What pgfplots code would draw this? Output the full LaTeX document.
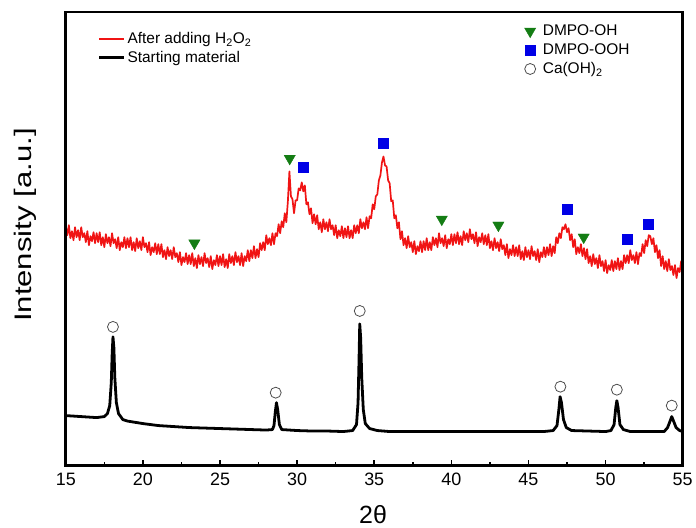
\documentclass[border=0pt]{standalone}
\usepackage{pgfplots}
\pgfplotsset{compat=1.18}
\usepackage{fontspec}
\setmainfont{Liberation Sans}
\definecolor{mkgreen}{RGB}{20,125,20}
\definecolor{mkblue}{RGB}{0,0,230}
\definecolor{curvered}{RGB}{240,20,20}
\begin{document}
\begin{tikzpicture}
\begin{axis}[
  name=main,
  width=619pt, height=455pt, scale only axis,
  xmin=15, xmax=55, ymin=62, ymax=517,
  xtick={15,20,...,55}, minor x tick num=1,
  ytick=\empty,
  xtick pos=bottom, tick align=inside,
  major tick length=5pt, minor tick length=3pt,
  tick style={line width=1.5pt, black},
  /pgf/number format/assume math mode=true,
  ticklabel style={font=\fontsize{18}{21}\selectfont},
  xticklabel style={yshift=-4pt},
  xlabel={2θ},
  xlabel style={font=\fontsize{25}{30}\selectfont, at={(axis description cs:0.498,-0.108)}, anchor=center},
  ylabel={\scalebox{1.3}[1]{Intensity [a.u.]}},
  ylabel style={font=\fontsize{24}{28}\selectfont, at={(axis description cs:-0.066,0.53)}, anchor=center},
  legend style={at={(axis description cs:0.05,0.962)}, anchor=north west, draw=none, fill=none,
    font=\fontsize{15.5}{18}\selectfont, row sep=2.5pt, inner sep=1pt},
  legend cell align=left,
  legend image code/.code={\draw[#1] (0pt,0pt) -- (25pt,0pt);},
]
\addplot[curvered, line width=1.7pt, line join=round] coordinates {
(15.0,302)(15.1,293)(15.2,303)(15.3,290)(15.4,297)(15.5,288)(15.6,301)(15.7,291)(15.8,298)(15.9,288)
(16.0,301)(16.1,291)(16.2,295)(16.3,286)(16.4,297)(16.5,283)(16.6,292)(16.7,287)(16.8,296)(16.9,285)
(17.0,295)(17.1,286)(17.2,296)(17.3,283)(17.4,291)(17.5,281)(17.6,294)(17.7,285)(17.8,291)(17.9,282)
(18.0,295)(18.1,285)(18.2,289)(18.3,280)(18.4,291)(18.5,278)(18.6,286)(18.7,281)(18.8,291)(18.9,280)
(19.0,290)(19.1,281)(19.2,291)(19.3,278)(19.4,286)(19.5,277)(19.6,290)(19.7,280)(19.8,287)(19.9,278)
(20.0,291)(20.1,281)(20.2,285)(20.3,276)(20.4,286)(20.5,273)(20.6,281)(20.7,276)(20.8,285)(20.9,274)
(21.0,284)(21.1,274)(21.2,284)(21.3,271)(21.4,278)(21.5,269)(21.6,281)(21.7,272)(21.8,278)(21.9,269)
(22.0,281)(22.1,271)(22.2,275)(22.3,266)(22.4,276)(22.5,263)(22.6,271)(22.7,266)(22.8,275)(22.9,264)
(23.0,273)(23.1,264)(23.2,275)(23.3,262)(23.4,270)(23.5,260)(23.6,273)(23.7,264)(23.8,271)(23.9,262)
(24.0,275)(24.1,265)(24.2,270)(24.3,261)(24.4,272)(24.5,259)(24.6,268)(24.7,263)(24.8,273)(24.9,262)
(25.0,272)(25.1,263)(25.2,274)(25.3,261)(25.4,269)(25.5,260)(25.6,274)(25.7,265)(25.8,272)(25.9,263)
(26.0,276)(26.1,266)(26.2,272)(26.3,263)(26.4,275)(26.5,262)(26.6,272)(26.7,267)(26.8,278)(26.9,267)
(27.0,278)(27.1,270)(27.2,282)(27.3,270)(27.4,279)(27.5,271)(27.6,285)(27.7,278)(27.8,286)(27.9,278)
(28.0,293)(28.1,284)(28.2,290)(28.3,283)(28.4,295)(28.5,284)(28.6,295)(28.7,292)(28.8,304)(28.9,295)
(29.0,307)(29.1,301)(29.2,315)(29.3,306)(29.4,327)(29.5,357)(29.6,332)(29.7,329)(29.8,315)(29.9,328)
(30.0,328)(30.1,340)(30.2,338)(30.3,346)(30.4,337)(30.5,343)(30.6,324)(30.7,326)(30.8,314)(30.9,320)
(31.0,305)(31.1,314)(31.2,304)(31.3,313)(31.4,299)(31.5,306)(31.6,296)(31.7,309)(31.8,299)(31.9,306)
(32.0,297)(32.1,309)(32.2,299)(32.3,303)(32.4,293)(32.5,303)(32.6,290)(32.7,298)(32.8,292)(32.9,302)
(33.0,290)(33.1,300)(33.2,291)(33.3,302)(33.4,290)(33.5,298)(33.6,290)(33.7,303)(33.8,295)(33.9,303)
(34.0,295)(34.1,309)(34.2,300)(34.3,306)(34.4,299)(34.5,311)(34.6,300)(34.7,312)(34.8,310)(34.9,324)
(35.0,319)(35.1,332)(35.2,334)(35.3,348)(35.4,353)(35.5,366)(35.6,372)(35.7,363)(35.8,362)(35.9,348)
(36.0,345)(36.1,327)(36.2,328)(36.3,310)(36.4,313)(36.5,300)(36.6,306)(36.7,289)(36.8,297)(36.9,283)
(37.0,290)(37.1,280)(37.2,292)(37.3,281)(37.4,286)(37.5,276)(37.6,287)(37.7,274)(37.8,282)(37.9,277)
(38.0,287)(38.1,276)(38.2,287)(38.3,278)(38.4,290)(38.5,278)(38.6,286)(38.7,278)(38.8,291)(38.9,283)
(39.0,290)(39.1,281)(39.2,295)(39.3,285)(39.4,290)(39.5,282)(39.6,293)(39.7,280)(39.8,289)(39.9,284)
(40.0,294)(40.1,283)(40.2,294)(40.3,285)(40.4,296)(40.5,284)(40.6,292)(40.7,283)(40.8,297)(40.9,288)
(41.0,295)(41.1,286)(41.2,299)(41.3,289)(41.4,294)(41.5,285)(41.6,296)(41.7,282)(41.8,291)(41.9,286)
(42.0,295)(42.1,284)(42.2,293)(42.3,283)(42.4,294)(42.5,280)(42.6,287)(42.7,278)(42.8,290)(42.9,280)
(43.0,286)(43.1,277)(43.2,289)(43.3,279)(43.4,283)(43.5,273)(43.6,284)(43.7,270)(43.8,279)(43.9,273)
(44.0,283)(44.1,272)(44.2,281)(44.3,272)(44.4,283)(44.5,269)(44.6,277)(44.7,268)(44.8,281)(44.9,271)
(45.0,278)(45.1,269)(45.2,282)(45.3,272)(45.4,277)(45.5,268)(45.6,279)(45.7,266)(45.8,276)(45.9,271)
(46.0,281)(46.1,271)(46.2,281)(46.3,273)(46.4,284)(46.5,272)(46.6,282)(46.7,275)(46.8,291)(46.9,285)
(47.0,295)(47.1,290)(47.2,301)(47.3,299)(47.4,304)(47.5,296)(47.6,300)(47.7,288)(47.8,294)(47.9,281)
(48.0,289)(48.1,274)(48.2,281)(48.3,275)(48.4,284)(48.5,272)(48.6,280)(48.7,269)(48.8,279)(48.9,265)
(49.0,272)(49.1,262)(49.2,274)(49.3,264)(49.4,270)(49.5,260)(49.6,273)(49.7,262)(49.8,267)(49.9,257)
(50.0,268)(50.1,255)(50.2,263)(50.3,258)(50.4,268)(50.5,257)(50.6,267)(50.7,259)(50.8,270)(50.9,258)
(51.0,267)(51.1,259)(51.2,273)(51.3,265)(51.4,273)(51.5,265)(51.6,278)(51.7,268)(51.8,273)(51.9,265)
(52.0,276)(52.1,264)(52.2,275)(52.3,272)(52.4,284)(52.5,275)(52.6,288)(52.7,282)(52.8,293)(52.9,292)
(53.0,284)(53.1,290)(53.2,276)(53.3,283)(53.4,270)(53.5,278)(53.6,262)(53.7,272)(53.8,259)(53.9,267)
(54.0,257)(54.1,269)(54.2,258)(54.3,262)(54.4,253)(54.5,263)(54.6,250)(54.7,260)(54.8,256)(54.9,267)
(55.0,256)
};
\addlegendentry{After adding H\textsubscript{2}O\textsubscript{2}}
\addplot[black, line width=2.8pt, line join=round] coordinates {
(15,112)(16,111)(17,110)(17.5,111)(17.7,114)(17.85,122)(17.95,145)(18.01,175)(18.06,191)(18.12,180)
(18.18,150)(18.28,125)(18.42,114)(18.7,108)(19,106.5)(20,104)(21,102)(22,101)(23,100)(24,99.5)
(25,99)(26,98.5)(27,98)(28,97.5)(28.4,98)(28.5,102)(28.58,115)(28.66,125)(28.74,118)(28.85,103)
(29.0,98)(30,97)(31,96.5)(32,96.5)(33,96)(33.6,97)(33.85,103)(33.95,125)(34.01,165)(34.06,204)
(34.12,190)(34.19,150)(34.29,118)(34.42,104)(34.7,99)(35.2,97)(36,96)(40,96)(44,96)(46,96)
(46.6,97)(46.85,102)(46.97,118)(47.05,131)(47.14,125)(47.27,108)(47.45,100)(47.8,97)(50,96)(50.35,97)
(50.55,103)(50.66,120)(50.73,127)(50.81,120)(50.93,103)(51.15,98)(51.6,96)(53.8,96)(54.02,100)(54.17,106)
(54.29,111)(54.42,106)(54.57,100)(54.8,97)(55,96)
};
\addlegendentry{Starting material}
\addplot[only marks, mark=o, mark size=5.5pt, mark options={draw=black!70, line width=0.8pt}, forget plot]
  coordinates {(18.06,201)(28.61,135)(34.06,217)(47.07,141)(50.73,138)(54.29,122)};
\addplot[only marks, mark=triangle*, mark size=6.5pt, mark options={fill=mkgreen, draw=mkgreen, rotate=180}, forget plot]
  coordinates {(23.34,285)(29.52,370)(39.38,309)(43.05,303)(48.58,291)};
\addplot[only marks, mark=square*, mark size=5pt, mark options={fill=mkblue, draw=mkblue}, forget plot]
  coordinates {(30.38,361)(35.61,385)(47.5,319)(51.4,289)(52.78,304)};
\end{axis}
\begin{axis}[
  width=619pt, height=455pt, scale only axis, hide axis,
  xmin=15, xmax=55, ymin=62, ymax=517,
  legend style={at={(axis description cs:0.74,0.978)}, anchor=north west, draw=none, fill=none,
    font=\fontsize{15.5}{18}\selectfont, row sep=2.5pt, inner sep=1pt},
  legend cell align=left,
  legend image code/.code={\draw[#1] plot coordinates {(6.5pt,0pt)}; \path (0pt,0pt) (17pt,0pt);},
]
\addlegendimage{only marks, mark=triangle*, mark size=6.5pt, mark options={fill=mkgreen, draw=mkgreen, rotate=180}}
\addlegendentry{DMPO-OH}
\addlegendimage{only marks, mark=square*, mark size=5pt, mark options={fill=mkblue, draw=mkblue}}
\addlegendentry{DMPO-OOH}
\addlegendimage{only marks, mark=o, mark size=5.5pt, mark options={draw=black!70, line width=0.8pt}}
\addlegendentry{Ca(OH)\textsubscript{2}}
\end{axis}
\draw[line width=2.8pt, line cap=rect] (main.south west) rectangle (main.north east);
\path ([shift={(-66pt,-62pt)}]main.south west) rectangle ++(696pt,529pt);
\end{tikzpicture}
\end{document}
